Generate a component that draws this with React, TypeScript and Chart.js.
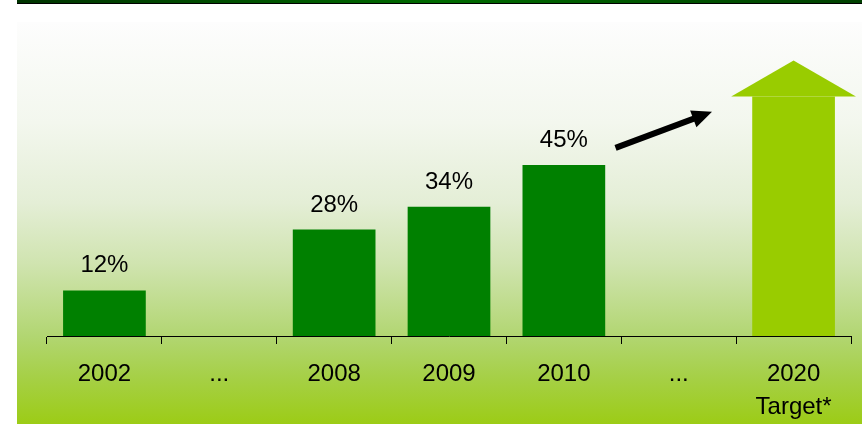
import React, { useEffect, useRef } from "react";
import { Chart, registerables } from "chart.js";

Chart.register(...registerables);

const categories: (string | string[])[] = ["2002", "...", "2008", "2009", "2010", "...", ["2020", "Target*"]];
const shareValues: (number | null)[] = [12, null, 28, 34, 45, null, null];
const targetShaft: (number | null)[] = [null, null, null, null, null, null, 63];
const targetTip = 72.5;
const trendFrom = { index: 4.45, value: 49.5 };
const trendTo = { index: 5.29, value: 59 };

const FONT = '"Liberation Sans", Arial, sans-serif';

const overlayPlugin = {
  id: "overlay",
  afterDatasetsDraw(chart: any) {
    const ctx = chart.ctx;
    const xs = chart.scales.x;
    const ys = chart.scales.y;
    const catW = xs.width / categories.length;
    // value labels
    const meta0 = chart.getDatasetMeta(0);
    ctx.save();
    ctx.fillStyle = "#000";
    ctx.font = `24px ${FONT}`;
    ctx.textAlign = "center";
    ctx.textBaseline = "alphabetic";
    meta0.data.forEach((bar: any, i: number) => {
      const v = shareValues[i];
      if (v == null) return;
      ctx.fillText(`${v}%`, bar.x, bar.y - 18);
    });
    // target arrow head
    const meta1 = chart.getDatasetMeta(1);
    meta1.data.forEach((bar: any, i: number) => {
      if (targetShaft[i] == null) return;
      const half = bar.width / 2 + 21;
      ctx.beginPath();
      ctx.moveTo(bar.x - half, bar.y);
      ctx.lineTo(bar.x + half, bar.y);
      ctx.lineTo(bar.x, ys.getPixelForValue(targetTip));
      ctx.closePath();
      ctx.fillStyle = "#99cc00";
      ctx.fill();
    });
    // trend arrow
    const px = (p: { index: number; value: number }) => ({
      x: xs.getPixelForValue(Math.floor(p.index)) + (p.index - Math.floor(p.index)) * catW,
      y: ys.getPixelForValue(p.value),
    });
    const a = px(trendFrom);
    const b = px(trendTo);
    const ang = Math.atan2(b.y - a.y, b.x - a.x);
    const headLen = 20;
    const headHalf = 9;
    const bx = b.x - headLen * Math.cos(ang);
    const by = b.y - headLen * Math.sin(ang);
    ctx.strokeStyle = "#000";
    ctx.lineWidth = 6;
    ctx.lineCap = "butt";
    ctx.beginPath();
    ctx.moveTo(a.x, a.y);
    ctx.lineTo(bx + 2 * Math.cos(ang), by + 2 * Math.sin(ang));
    ctx.stroke();
    ctx.beginPath();
    ctx.moveTo(b.x, b.y);
    ctx.lineTo(bx - headHalf * Math.sin(ang), by + headHalf * Math.cos(ang));
    ctx.lineTo(bx + headHalf * Math.sin(ang), by - headHalf * Math.cos(ang));
    ctx.closePath();
    ctx.fillStyle = "#000";
    ctx.fill();
    ctx.restore();
  },
};

export default function App() {
  const ref = useRef<HTMLCanvasElement | null>(null);
  useEffect(() => {
    if (!ref.current) return;
    const chart = new Chart(ref.current, {
      type: "bar",
      data: {
        labels: categories as any,
        datasets: [
          {
            data: shareValues,
            backgroundColor: "#008000",
            barPercentage: 0.72,
            categoryPercentage: 1,
            grouped: false,
          } as any,
          {
            data: targetShaft,
            backgroundColor: "#99cc00",
            barPercentage: 0.72,
            categoryPercentage: 1,
            grouped: false,
          } as any,
        ],
      },
      options: {
        animation: false,
        responsive: false,
        maintainAspectRatio: false,
        layout: { padding: { left: 47, right: 11, top: 32, bottom: 0 } },
        plugins: { legend: { display: false }, tooltip: { enabled: false } },
        scales: {
          x: {
            offset: true,
            grid: {
              offset: true,
              drawOnChartArea: false,
              drawTicks: true,
              tickLength: 8,
              color: "#000",
              lineWidth: 1,
            },
            border: { display: true, color: "#000", width: 1 },
            ticks: {
              color: "#000",
              font: { family: FONT, size: 24, lineHeight: 1.375 },
              padding: 14,
              autoSkip: false,
              maxRotation: 0,
              minRotation: 0,
            },
            afterFit: (scale: any) => {
              scale.height = 88;
            },
          },
          y: { display: false, min: 0, max: 80 },
        },
      },
      plugins: [overlayPlugin],
    });
    return () => chart.destroy();
  }, []);

  return (
    <div style={{ position: "absolute", left: 0, top: 0, width: 862, height: 424, overflow: "hidden", background: "#fff" }}>
      <div
        style={{
          position: "absolute",
          left: 17,
          top: 0,
          width: 845,
          height: 3,
          background: "linear-gradient(to right, #003300, #006a00 50%, #004000)",
          borderBottom: "1px solid #000",
        }}
      />
      <div
        style={{
          position: "absolute",
          left: 17,
          top: 22,
          width: 845,
          height: 402,
          background:
            "linear-gradient(to bottom, #fdfdfd 0%, #f3f7ee 25%, #e4eed6 45%, #d0e4b0 60%, #b2d672 78%, #a6d048 88%, #9ccc16 100%)",
        }}
      />
      <canvas ref={ref} width={862} height={424} style={{ position: "absolute", left: 0, top: 0, width: 862, height: 424 }} />
    </div>
  );
}
